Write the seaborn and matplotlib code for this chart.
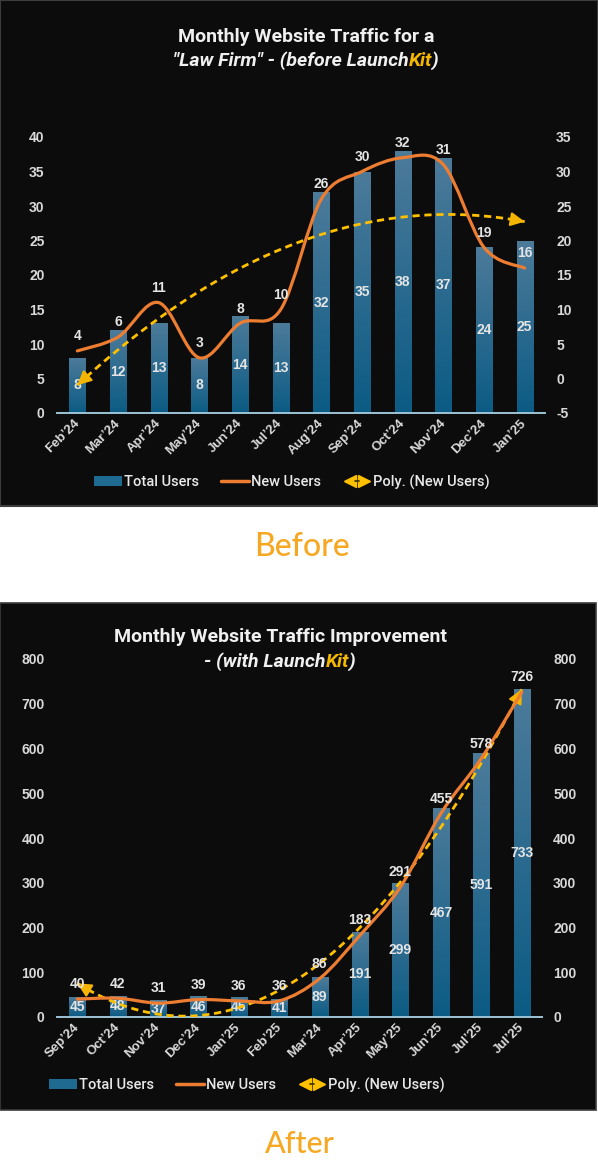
import numpy as np
import pandas as pd
import matplotlib
matplotlib.use("Agg")
import matplotlib.pyplot as plt
import seaborn as sns
from matplotlib.path import Path
from matplotlib.patches import PathPatch, Rectangle, Patch
from matplotlib.lines import Line2D
from matplotlib.legend_handler import HandlerBase
from matplotlib.colors import LinearSegmentedColormap

# ---------------- data ----------------
before_months = ["Feb’24", "Mar’24", "Apr’24", "May’24", "Jun’24", "Jul’24",
                 "Aug’24", "Sep’24", "Oct’24", "Nov’24", "Dec’24", "Jan’25"]
before_total = [8, 12, 13, 8, 14, 13, 32, 35, 38, 37, 24, 25]
before_new = [4, 6, 11, 3, 8, 10, 26, 30, 32, 31, 19, 16]

after_months = ["Sep’24", "Oct’24", "Nov’24", "Dec’24", "Jan’25", "Feb’25",
                "Mar’24", "Apr’25", "May’25", "Jun’25", "Jul’25", "Jul’25"]
after_total = [45, 48, 37, 46, 45, 41, 89, 191, 299, 467, 591, 733]
after_new = [40, 42, 31, 39, 36, 36, 86, 183, 291, 455, 578, 726]

before_left_ticks = list(range(0, 41, 5))
before_right_ticks = list(range(-5, 36, 5))
after_ticks = list(range(0, 801, 100))

# ---------------- style ----------------
sns.set_style("dark")
plt.rcParams["font.family"] = ["Liberation Sans", "DejaVu Sans"]
plt.rcParams["font.weight"] = "bold"

BG = "#0c0c0c"
BAR_TOP = "#4d7b9a"
BAR_BOT = "#0b5b84"
ORANGE = "#ed7d31"
YELLOW = "#ffc000"
ARROW = "#f5b400"
TXT = "#e4e4e4"
TICK = "#d9d9d9"
AXLINE = "#9cc3d5"
KIT = "#f5b800"
TITLE_FONT = ["Roboto", "DejaVu Sans"]

CMAP = LinearSegmentedColormap.from_list("bar", [BAR_BOT, BAR_TOP])

W, H = 598, 1160
fig = plt.figure(figsize=(W / 100, H / 100), dpi=100, facecolor="white")


def fx(px):
    return px / W


def fy(py):
    return 1 - py / H


# dark panels
fig.add_artist(Rectangle((0, fy(506)), 1, 506 / H, transform=fig.transFigure,
                         facecolor=BG, edgecolor="#3c3c3c", lw=1.5, zorder=-2))
fig.add_artist(Rectangle((0, fy(1110)), fx(596), (1110 - 603) / H,
                         transform=fig.transFigure, facecolor=BG,
                         edgecolor="#3c3c3c", lw=1.2, zorder=-2))


def smooth_path(xs, ys):
    pts = np.column_stack([xs, ys]).astype(float)
    n = len(pts)
    verts = [pts[0]]
    codes = [Path.MOVETO]
    for i in range(n - 1):
        p0 = pts[i - 1] if i > 0 else pts[i]
        p1 = pts[i]
        p2 = pts[i + 1]
        p3 = pts[i + 2] if i + 2 < n else pts[i + 1]
        c1 = p1 + (p2 - p0) / 6.0
        c2 = p2 - (p3 - p1) / 6.0
        verts += [c1, c2, p2]
        codes += [Path.CURVE4] * 3
    return Path(verts, codes)


class PolyHandler(HandlerBase):
    def create_artists(self, legend, orig_handle, xdescent, ydescent,
                       width, height, fontsize, trans):
        y = height / 2 - ydescent
        x0 = -xdescent
        a = Line2D([x0 + width * 0.25], [y], marker="<", ms=8.5, color=YELLOW,
                   ls="none", transform=trans)
        b = Line2D([x0 + width * 0.75], [y], marker=">", ms=8.5, color=YELLOW,
                   ls="none", transform=trans)
        c = Line2D([x0 + width * 0.44, x0 + width * 0.56], [y, y], color="#3a3000",
                   lw=1.2, transform=trans)
        return [a, b, c]


def draw_chart(pos, months, total, new, lim_l, lim_r, ticks_l, ticks_r,
               legend_center):
    n = len(months)
    x = np.arange(n)
    ax = fig.add_axes(pos)
    ax.set_facecolor("none")
    df = pd.DataFrame({"idx": x, "total": total})
    sns.barplot(data=df, x="idx", y="total", ax=ax, color=BAR_BOT, width=0.4,
                saturation=1, zorder=2, edgecolor="none", linewidth=0)
    grad = np.linspace(0, 1, 256).reshape(-1, 1)
    for bar in list(ax.patches):
        x0, w, h = bar.get_x(), bar.get_width(), bar.get_height()
        im = ax.imshow(grad, extent=[x0, x0 + w, 0, h], origin="lower",
                       aspect="auto", cmap=CMAP, zorder=2.1)
        im.set_clip_path(bar)
    ax.set_xlim(-0.5, n - 0.5)
    ax.set_ylim(*lim_l)
    ax.set_yticks(ticks_l)
    ax.set_yticklabels([str(t) for t in ticks_l])
    ax.set_xticks(x)
    ax.set_xticklabels(months, rotation=45, ha="right", va="center",
                       rotation_mode="anchor", fontsize=9.5, color=TICK,
                       weight="bold")
    ax.tick_params(axis="y", length=0, pad=9, labelsize=10, labelcolor=TICK)
    ax.tick_params(axis="x", length=0, pad=6)
    ax.set_xlabel("")
    ax.set_ylabel("")
    ax.grid(False)
    for s in ["top", "left", "right"]:
        ax.spines[s].set_visible(False)
    ax.spines["bottom"].set_color(AXLINE)
    ax.spines["bottom"].set_linewidth(1.4)
    ax.spines["bottom"].set_zorder(3)

    for i, v in enumerate(total):
        ax.text(i, v / 2, str(v), ha="center", va="center", color=TXT,
                fontsize=10, weight="bold", zorder=5)

    ax2 = ax.twinx()
    ax2.set_facecolor("none")
    ax2.grid(False)
    for s in ax2.spines.values():
        s.set_visible(False)

    # trendline (2nd order polynomial fitted to New Users)
    coef = np.polyfit(x, new, 2)
    xx = np.linspace(0, n - 1, 300)
    yy = np.polyval(coef, xx)
    sns.lineplot(x=xx, y=yy, ax=ax2, color=YELLOW, lw=2, zorder=3)
    ax2.lines[-1].set_linestyle((0, (2.6, 1.7)))
    for xe, xi in [(0, 0.22), (n - 1, n - 1.22)]:
        ax2.annotate("", xy=(xe, np.polyval(coef, xe)),
                     xytext=(xi, np.polyval(coef, xi)),
                     arrowprops=dict(arrowstyle="-|>,head_length=0.7,head_width=0.35",
                                     color=ARROW, lw=1.5, shrinkA=0, shrinkB=0,
                                     mutation_scale=12), zorder=4)

    # smoothed New Users line
    ax2.add_patch(PathPatch(smooth_path(x, new), fill=False, edgecolor=ORANGE,
                            lw=2.3, capstyle="round", joinstyle="round", zorder=4))
    for i, v in enumerate(new):
        ax2.annotate(str(v), (i, v), xytext=(0, 5.5), textcoords="offset points",
                     ha="center", va="bottom", color=TXT, fontsize=10,
                     weight="bold", zorder=6)

    ax2.set_xlim(-0.5, n - 0.5)
    ax2.set_ylim(*lim_r)
    ax2.set_yticks(ticks_r)
    ax2.set_yticklabels([str(t) for t in ticks_r])
    ax2.tick_params(axis="y", length=0, pad=8, labelsize=10, labelcolor=TICK)
    ax2.set_xlabel("")
    ax2.set_ylabel("")

    poly_handle = Line2D([], [], color=YELLOW)
    handles = [Patch(facecolor="#1f6a90", edgecolor="none"),
               Line2D([], [], color=ORANGE, lw=2.5), poly_handle]
    labels = ["Total Users", "New Users", "Poly. (New Users)"]
    fig.legend(handles, labels, loc="center",
               bbox_to_anchor=(fx(legend_center[0]), fy(legend_center[1])),
               ncol=3, frameon=False, handlelength=1.9, handletextpad=0.15,
               columnspacing=1.5, handler_map={poly_handle: PolyHandler()},
               prop={"family": TITLE_FONT, "size": 10.5, "weight": "medium"},
               labelcolor="#e8e8e8")
    return ax, ax2


def rich_line(pieces, xc_px, y_px, **kw):
    r = fig.canvas.get_renderer()
    texts = [fig.text(0, 0, s, color=c, va="baseline", ha="left", **kw)
             for s, c in pieces]
    widths = [t.get_window_extent(r).width for t in texts]
    xpos = xc_px - sum(widths) / 2
    for t, w in zip(texts, widths):
        t.set_position((fx(xpos), fy(y_px)))
        xpos += w


draw_chart([fx(57), fy(413), fx(545 - 57), (413 - 137) / H],
           before_months, before_total, before_new, (0, 40), (-5, 35),
           before_left_ticks, before_right_ticks, (292, 482))
draw_chart([fx(57), fy(1017), fx(542 - 57), (1017 - 659) / H],
           after_months, after_total, after_new, (0, 800), (0, 800),
           after_ticks, after_ticks, (247, 1085))

tkw = dict(family=TITLE_FONT, fontsize=14, weight="bold")
rich_line([("Monthly Website Traffic for a", "#f0f0f0")], 306, 42, **tkw)
rich_line([("\"Law Firm\" - (before Launch", "#f0f0f0"), ("Kit", KIT), (")", "#f0f0f0")],
          306, 66, style="italic", **tkw)
rich_line([("Monthly Website Traffic Improvement", "#f0f0f0")], 280, 642, **tkw)
rich_line([("- (with Launch", "#f0f0f0"), ("Kit", KIT), (")", "#f0f0f0")],
          280, 667, style="italic", **tkw)

fig.text(fx(302), fy(547), "Before", ha="center", va="center", color="#f7a823",
         fontsize=23, family=["Lato", "DejaVu Sans"], weight="medium")
fig.text(fx(300), fy(1158), "After", ha="center", va="bottom", color="#f7a823",
         fontsize=22, family=["Lato", "DejaVu Sans"], weight="medium")

fig.savefig("out.png", dpi=100, facecolor="white")
